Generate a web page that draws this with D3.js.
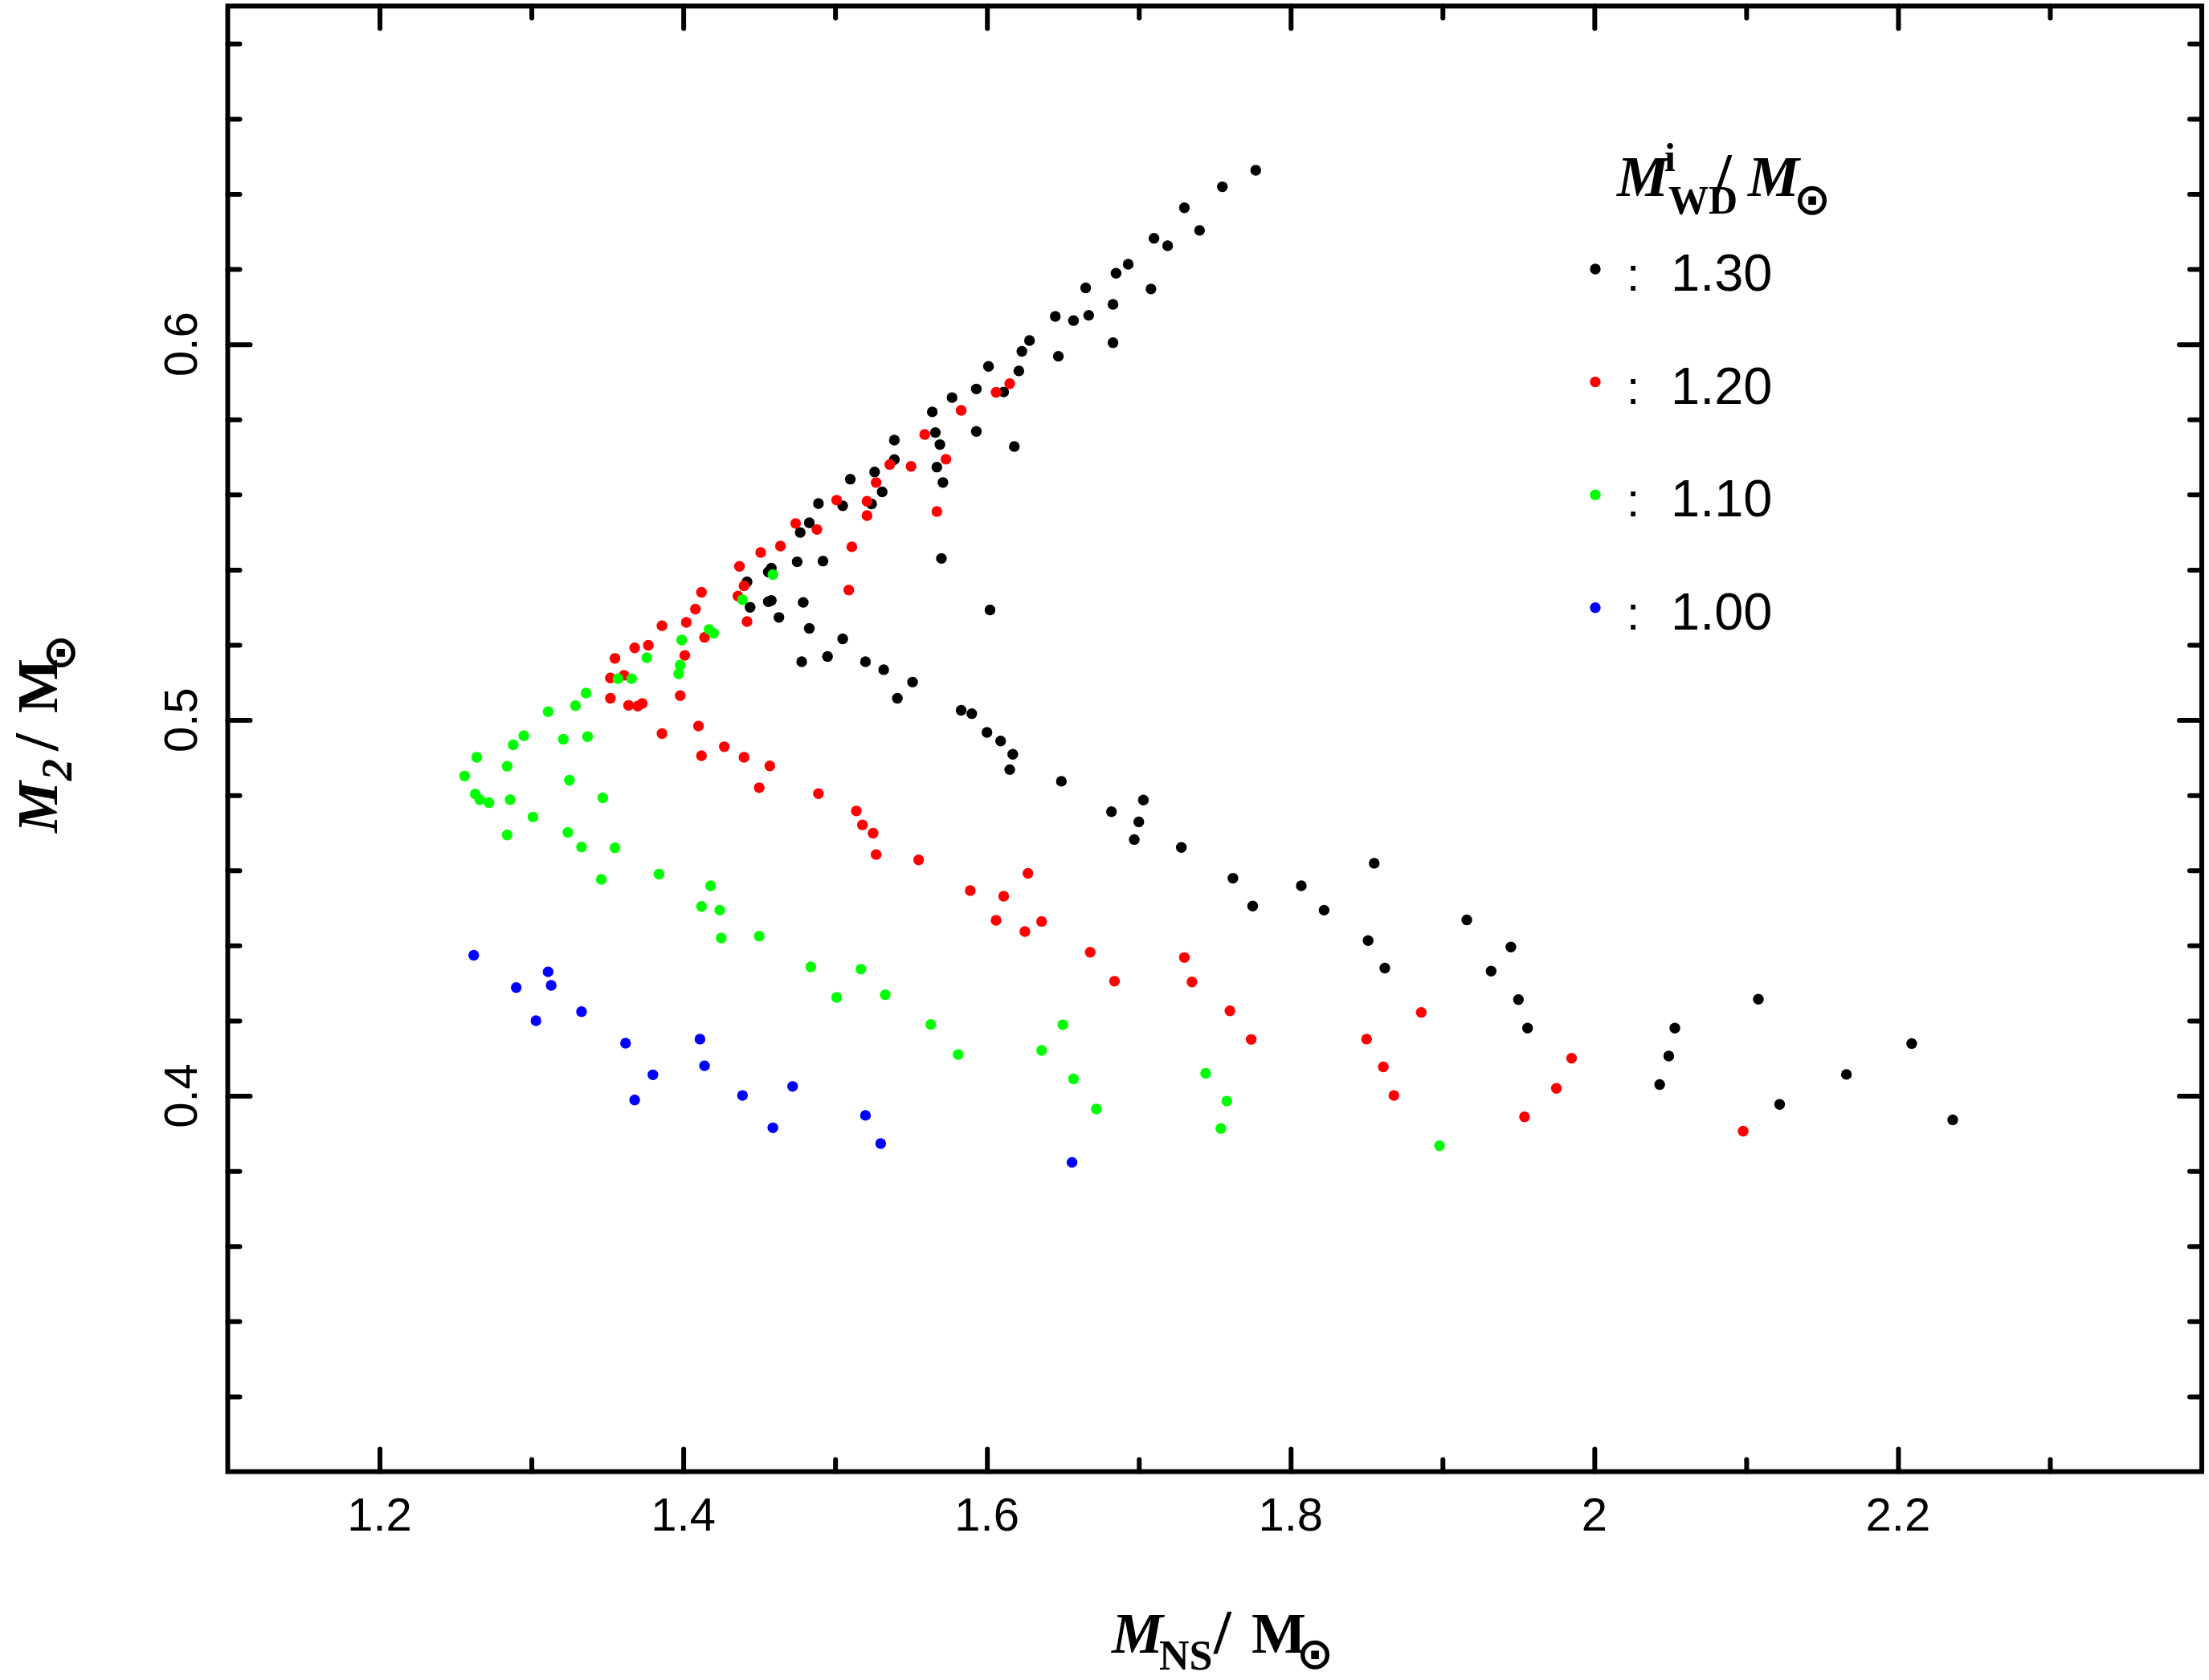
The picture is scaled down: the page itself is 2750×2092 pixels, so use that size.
<!DOCTYPE html>
<html>
<head>
<meta charset="utf-8">
<script src="https://cdn.jsdelivr.net/npm/d3@7"></script>
<style>
body { margin: 0; background: #fff; }
text { font-family: "Liberation Sans", Arial, sans-serif; fill: #000; }
.serif { font-family: "Liberation Serif", "DejaVu Serif", serif; font-weight: bold; }
.sym { font-family: "DejaVu Sans", sans-serif; }
</style>
</head>
<body>
<svg id="chart" width="2750" height="2092"></svg>
<script>
var W = 2750, H = 2092;

// tick positions / labels
var xMajor = [1.2, 1.4, 1.6, 1.8, 2.0, 2.2];
var xMinor = [1.3, 1.5, 1.7, 1.9, 2.1, 2.3];
var xLabels = ["1.2", "1.4", "1.6", "1.8", "2", "2.2"];
var yMajor = [0.4, 0.5, 0.6];
var yMinor = [0.32, 0.34, 0.36, 0.38, 0.42, 0.44, 0.46, 0.48, 0.52, 0.54, 0.56, 0.58, 0.62, 0.64, 0.66, 0.68];
var yLabels = ["0.4", "0.5", "0.6"];

// legend
var legendLabels = ["1.30", "1.20", "1.10", "1.00"];
var legendColors = ["#000000", "#ff0000", "#00ff00", "#0000ff"];

// M_NS, M_2 for M_WD^i = 1.30
var black = [[1.777,0.6463],[1.755,0.6419],[1.730,0.6363],[1.740,0.6303],[1.710,0.6282],[1.719,0.6262],
  [1.693,0.6213],[1.685,0.6189],[1.665,0.6150],[1.708,0.6147],[1.683,0.6106],[1.645,0.6074],[1.657,0.6063],
  [1.667,0.6077],[1.683,0.6004],[1.628,0.6010],[1.623,0.5981],[1.647,0.5968],[1.601,0.5941],[1.621,0.5929],
  [1.593,0.5881],[1.611,0.5873],[1.577,0.5858],[1.564,0.5820],[1.566,0.5765],[1.593,0.5768],[1.569,0.5733],
  [1.618,0.5728],[1.539,0.5745],[1.539,0.5693],[1.567,0.5673],[1.571,0.5632],[1.526,0.5660],[1.510,0.5641],
  [1.531,0.5607],[1.489,0.5576],[1.505,0.5570],[1.524,0.5575],[1.483,0.5525],[1.477,0.5499],[1.570,0.5430],
  [1.475,0.5421],[1.492,0.5423],[1.458,0.5404],[1.456,0.5394],[1.442,0.5368],[1.444,0.5300],[1.456,0.5315],
  [1.458,0.5318],[1.479,0.5313],[1.602,0.5293],[1.463,0.5273],[1.483,0.5244],[1.505,0.5216],[1.495,0.5169],
  [1.478,0.5155],[1.520,0.5155],[1.532,0.5134],[1.551,0.5101],[1.541,0.5058],[1.583,0.5026],[1.590,0.5017],
  [1.600,0.4967],[1.609,0.4944],[1.617,0.4909],[1.615,0.4868],[1.649,0.4837],[1.703,0.4787],[1.682,0.4756],
  [1.700,0.4729],[1.697,0.4682],[1.728,0.4661],[1.762,0.4579],[1.775,0.4505],[1.807,0.4559],[1.822,0.4494],
  [1.855,0.4619],[1.851,0.4413],[1.862,0.4340],[1.916,0.4468],[1.945,0.4396],[1.932,0.4332],[1.950,0.4256],
  [1.956,0.4180],[2.108,0.4257],[2.053,0.4180],[2.049,0.4106],[2.043,0.4030],[2.122,0.3977],[2.209,0.4139],
  [2.166,0.4057],[2.236,0.3936]];

// M_WD^i = 1.20
var red = [[1.615,0.5895],[1.606,0.5872],[1.583,0.5824],[1.559,0.5760],[1.573,0.5694],[1.536,0.5680],
  [1.550,0.5675],[1.527,0.5632],[1.501,0.5585],[1.521,0.5582],[1.521,0.5544],[1.567,0.5555],[1.474,0.5523],
  [1.488,0.5507],[1.464,0.5463],[1.451,0.5446],[1.511,0.5461],[1.437,0.5409],[1.440,0.5357],[1.436,0.5330],
  [1.509,0.5346],[1.412,0.5340],[1.408,0.5295],[1.402,0.5260],[1.442,0.5262],[1.386,0.5251],[1.414,0.5220],
  [1.377,0.5199],[1.368,0.5192],[1.401,0.5172],[1.355,0.5164],[1.352,0.5112],[1.361,0.5119],[1.352,0.5058],
  [1.398,0.5065],[1.364,0.5039],[1.370,0.5037],[1.373,0.5044],[1.410,0.4984],[1.386,0.4964],[1.427,0.4929],
  [1.412,0.4905],[1.440,0.4901],[1.457,0.4878],[1.450,0.4820],[1.489,0.4804],[1.514,0.4758],[1.518,0.4721],
  [1.525,0.4699],[1.527,0.4642],[1.555,0.4628],[1.627,0.4592],[1.589,0.4546],[1.611,0.4531],[1.606,0.4467],
  [1.636,0.4464],[1.625,0.4437],[1.668,0.4382],[1.730,0.4368],[1.684,0.4305],[1.735,0.4303],[1.760,0.4226],
  [1.774,0.4150],[1.850,0.4151],[1.886,0.4222],[1.861,0.4077],[1.868,0.4001],[1.985,0.4100],[1.975,0.4020],
  [1.954,0.3944],[2.098,0.3906]];

// M_WD^i = 1.10
var green = [[1.459,0.5387],[1.439,0.5320],[1.417,0.5241],[1.420,0.5231],[1.399,0.5213],[1.376,0.5166],
  [1.398,0.5146],[1.397,0.5123],[1.357,0.5110],[1.366,0.5110],[1.336,0.5072],[1.329,0.5038],[1.311,0.5022],
  [1.295,0.4958],[1.288,0.4934],[1.321,0.4949],[1.337,0.4956],[1.264,0.4901],[1.284,0.4877],[1.256,0.4851],
  [1.325,0.4840],[1.263,0.4803],[1.266,0.4788],[1.272,0.4780],[1.286,0.4788],[1.347,0.4793],[1.301,0.4742],
  [1.284,0.4694],[1.324,0.4701],[1.333,0.4662],[1.355,0.4660],[1.346,0.4576],[1.384,0.4590],[1.418,0.4559],
  [1.412,0.4504],[1.424,0.4494],[1.425,0.4420],[1.450,0.4425],[1.484,0.4343],[1.517,0.4337],[1.501,0.4262],
  [1.533,0.4269],[1.563,0.4190],[1.581,0.4110],[1.650,0.4189],[1.636,0.4121],[1.657,0.4045],[1.672,0.3965],
  [1.744,0.4060],[1.758,0.3986],[1.754,0.3913],[1.898,0.3867]];

// M_WD^i = 1.00
var blue = [[1.262,0.4374],[1.311,0.4330],[1.290,0.4288],[1.313,0.4294],[1.333,0.4224],[1.303,0.4200],
  [1.362,0.4140],[1.411,0.4151],[1.414,0.4080],[1.380,0.4056],[1.368,0.3989],[1.439,0.4001],[1.472,0.4025],
  [1.459,0.3915],[1.520,0.3948],[1.530,0.3873],[1.656,0.3823]];

var series = [black, red, green, blue];

var x = d3.scaleLinear().domain([1.1, 2.4]).range([283.5, 2741]);
var y = d3.scaleLinear().domain([0.3, 0.69]).range([1832.5, 7.5]);

var svg = d3.select("#chart");
svg.append("rect").attr("width", W).attr("height", H).attr("fill", "#fff");

var R = 6.7;
var TW = 6;

// points
series.forEach(function(s, i) {
  svg.append("g").selectAll("circle")
    .data(s)
    .enter().append("circle")
    .attr("cx", function(d) { return x(d[0]); })
    .attr("cy", function(d) { return y(d[1]); })
    .attr("r", R)
    .attr("fill", legendColors[i]);
});

// axes (ticks pointing inward)
function styleAxis(g) {
  g.select(".domain").remove();
  g.selectAll(".tick line").attr("stroke", "#000").attr("stroke-width", TW).attr("stroke-linecap", "round");
  g.selectAll(".tick text").remove();
}
var y0 = y.range()[0], y1 = y.range()[1], x0 = x.range()[0], x1 = x.range()[1];

svg.append("g").attr("transform", "translate(0," + y0 + ")")
  .call(d3.axisBottom(x).tickValues(xMajor).tickSize(-28)).call(styleAxis);
svg.append("g").attr("transform", "translate(0," + y0 + ")")
  .call(d3.axisBottom(x).tickValues(xMinor).tickSize(-15)).call(styleAxis);
svg.append("g").attr("transform", "translate(0," + y1 + ")")
  .call(d3.axisTop(x).tickValues(xMajor).tickSize(-28)).call(styleAxis);
svg.append("g").attr("transform", "translate(0," + y1 + ")")
  .call(d3.axisTop(x).tickValues(xMinor).tickSize(-15)).call(styleAxis);
svg.append("g").attr("transform", "translate(" + x0 + ",0)")
  .call(d3.axisLeft(y).tickValues(yMajor).tickSize(-28)).call(styleAxis);
svg.append("g").attr("transform", "translate(" + x0 + ",0)")
  .call(d3.axisLeft(y).tickValues(yMinor).tickSize(-15)).call(styleAxis);
svg.append("g").attr("transform", "translate(" + x1 + ",0)")
  .call(d3.axisRight(y).tickValues(yMajor).tickSize(-28)).call(styleAxis);
svg.append("g").attr("transform", "translate(" + x1 + ",0)")
  .call(d3.axisRight(y).tickValues(yMinor).tickSize(-15)).call(styleAxis);

// frame
svg.append("rect")
  .attr("x", x0).attr("y", y1)
  .attr("width", x1 - x0).attr("height", y0 - y1)
  .attr("fill", "none").attr("stroke", "#000").attr("stroke-width", TW);

// tick labels
svg.selectAll(".xlab").data(xMajor).enter().append("text")
  .attr("x", function(d) { return x(d); })
  .attr("y", 1906)
  .attr("text-anchor", "middle")
  .attr("font-size", 58)
  .text(function(d, i) { return xLabels[i]; });

svg.selectAll(".ylab").data(yMajor).enter().append("text")
  .attr("transform", function(d) { return "translate(245," + y(d) + ") rotate(-90)"; })
  .attr("text-anchor", "middle")
  .attr("font-size", 58)
  .text(function(d, i) { return yLabels[i]; });

// x axis title: M_NS / M_sun
var xt = svg.append("text").attr("class", "serif").attr("font-size", 72);
xt.append("tspan").attr("x", 1384).attr("y", 2058).attr("font-style", "italic").text("M");
xt.append("tspan").attr("x", 1443).attr("y", 2079).attr("font-size", 52).text("NS");
xt.append("tspan").attr("x", 1511).attr("y", 2058).attr("font-size", 78).text("/");
xt.append("tspan").attr("x", 1558).attr("y", 2058).text("M");
xt.append("tspan").attr("class", "sym").attr("x", 1614).attr("y", 2078).attr("font-size", 55).text("\u2299");

// y axis title: M_2 / M_sun (rotated)
var yt = svg.append("text").attr("class", "serif").attr("font-size", 72)
  .attr("transform", "translate(71,916) rotate(-90)");
yt.append("tspan").attr("x", -121).attr("y", 0).attr("font-style", "italic").text("M");
yt.append("tspan").attr("x", -56).attr("y", 18).attr("font-size", 54).attr("font-style", "italic").text("2");
yt.append("tspan").attr("x", -19).attr("y", 0).attr("font-size", 78).text("/");
yt.append("tspan").attr("x", 28).attr("y", 0).text("M");
yt.append("tspan").attr("class", "sym").attr("x", 80).attr("y", 22).attr("font-size", 55).text("\u2299");

// legend title: M^i_WD / M_sun
var lt = svg.append("text").attr("class", "serif").attr("font-size", 72);
lt.append("tspan").attr("x", 2013).attr("y", 244).attr("font-style", "italic").text("M");
lt.append("tspan").attr("x", 2072).attr("y", 213).attr("font-size", 50).text("i");
lt.append("tspan").attr("x", 2077).attr("y", 266).attr("font-size", 50).text("WD");
lt.append("tspan").attr("x", 2134).attr("y", 244).attr("font-size", 78).text("/");
lt.append("tspan").attr("x", 2176).attr("y", 244).attr("font-style", "italic").text("M");
lt.append("tspan").attr("class", "sym").attr("x", 2233).attr("y", 267).attr("font-size", 55).text("\u2299");

// legend entries
var leg = svg.append("g").selectAll("g")
  .data(legendLabels)
  .enter().append("g")
  .attr("transform", function(d, i) { return "translate(0," + (335 + i * 140.6) + ")"; });
leg.append("circle").attr("cx", 1986).attr("cy", 0).attr("r", R)
  .attr("fill", function(d, i) { return legendColors[i]; });
leg.append("text").attr("x", 2033).attr("y", 27).attr("text-anchor", "middle").attr("font-size", 60).text(":");
leg.append("text").attr("x", 2080).attr("y", 27).attr("font-size", 65).text(function(d) { return d; });
</script>
</body>
</html>
